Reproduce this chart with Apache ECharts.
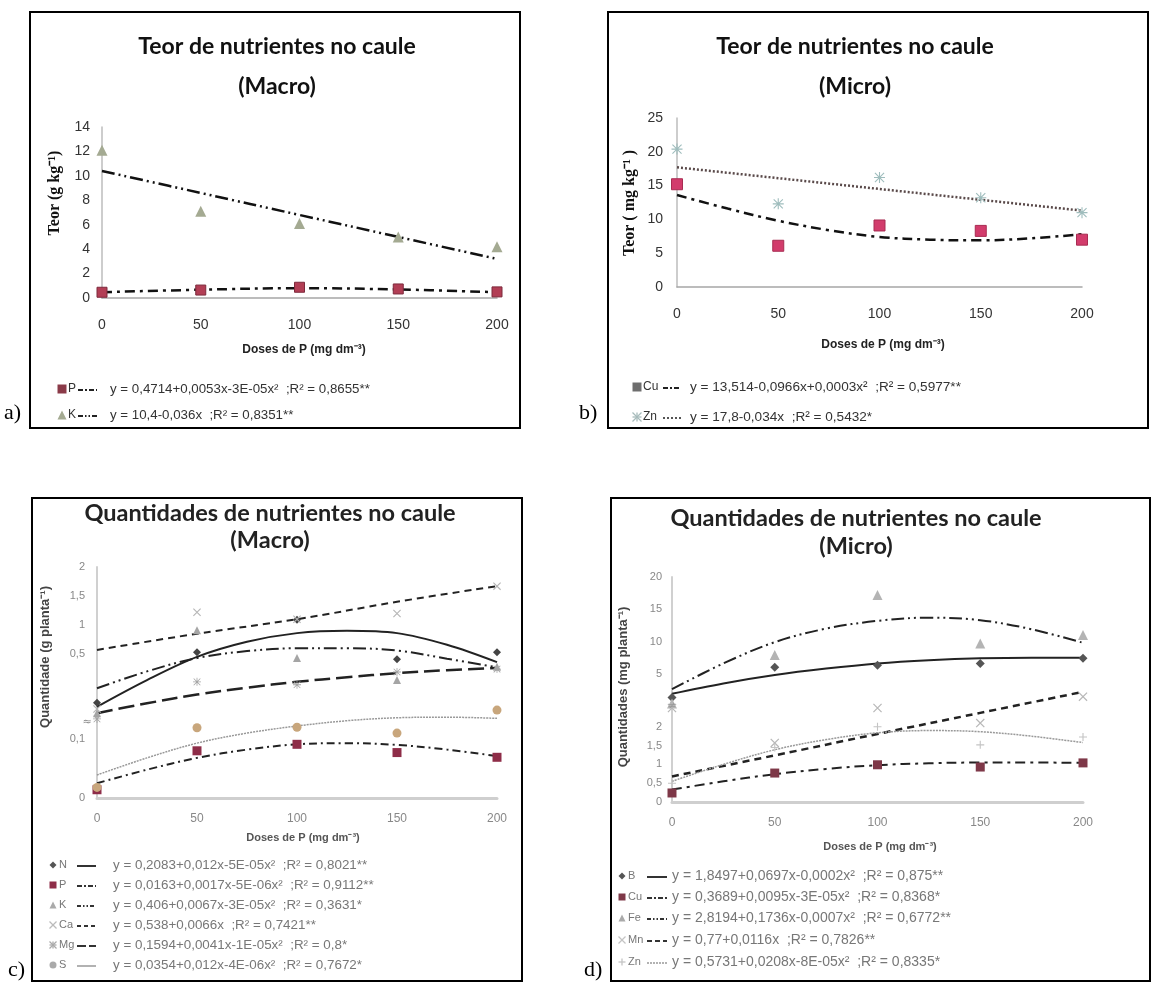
<!DOCTYPE html>
<html><head><meta charset="utf-8">
<script src="https://cdn.jsdelivr.net/npm/echarts@6/dist/echarts.min.js"></script>
<style>html,body{margin:0;padding:0;background:#fff}#chart{width:1153px;height:985px}</style>
</head><body><div id="chart"></div>
<script>
// ---------- data ----------
const doses = [0, 50, 100, 150, 200];
const fitX = [0, 25, 50, 75, 100, 125, 150, 175, 200];
const xTicks = [0, 50, 100, 150, 200];

// a) Teor macro (g kg-1)
const aP = [0.47, 0.65, 0.88, 0.74, 0.5];
const aK = [12.1, 7.1, 6.1, 5.0, 4.2];
const aPfit = [0.47, 0.68, 0.8, 0.7, 0.47];      // at doses
const aKfit = [10.4, 8.6, 6.8, 5.0, 3.2];        // at doses

// b) Teor micro (mg kg-1)
const bCu = [15.2, 6.1, 9.1, 8.3, 7.0];
const bZn = [20.4, 12.3, 16.2, 13.2, 11.0];
const bCufit = [13.6, 11.6, 9.8, 8.4, 7.4, 7.0, 6.9, 7.2, 7.8]; // at fitX
const bZnfit = [17.7, 16.1, 14.5, 12.9, 11.3];                  // at doses

// c) Quantidades macro – upper scale part (N, K, Ca, Mg)
const cN = [-0.34, 0.53, 1.09, 0.41, 0.53];
const cK = [-0.52, 0.91, 0.43, 0.05, 0.28];
const cCa = [-0.45, 1.22, 1.1, 1.2, 1.67];
const cMg = [-0.62, 0.02, -0.03, 0.19, 0.24];
const cNfit = [-0.41, 0.05, 0.45, 0.71, 0.86, 0.9, 0.86, 0.66, 0.36];
const cKfit = [-0.09, 0.2, 0.43, 0.55, 0.6, 0.6, 0.56, 0.42, 0.27];
const cCafit = [0.57, 0.85, 1.1, 1.4, 1.67];
const cMgfit = [-0.52, -0.35, -0.2, -0.08, 0.02, 0.1, 0.17, 0.22, 0.26];
// c) lower scale part (P, S)
const cP = [0.014, 0.08, 0.091, 0.077, 0.069];
const cS = [0.018, 0.119, 0.12, 0.11, 0.149];
const cPfit = [0.025, 0.048, 0.068, 0.082, 0.091, 0.093, 0.09, 0.082, 0.071];
const cSfit = [0.039, 0.068, 0.093, 0.11, 0.122, 0.131, 0.136, 0.137, 0.135];

// d) Quantidades micro – upper scale part (B, Fe)
const dB = [1.3, 6.0, 6.3, 6.6, 7.4];
const dFe = [0.4, 7.9, 17.2, 9.7, 11.0];
const dBfit = [1.9, 3.5, 4.8, 5.8, 6.6, 7.1, 7.4, 7.5, 7.5];
const dFefit = [2.6, 6.6, 9.9, 12.0, 13.2, 13.7, 13.3, 11.9, 9.8];
// d) lower scale part (Cu, Mn, Zn)
const dCu = [0.24, 0.77, 0.99, 0.93, 1.04];
const dMn = [2.5, 1.57, 2.5, 2.1, 2.8];
const dZn = [0.5, 1.45, 2.0, 1.52, 1.73];
const dCufit = [0.33, 0.55, 0.74, 0.88, 0.98, 1.03, 1.05, 1.05, 1.04];
const dMnfit = [0.68, 1.24, 1.81, 2.37, 2.93];   // at doses
const dZnfit = [0.55, 1.0, 1.39, 1.66, 1.84, 1.9, 1.87, 1.75, 1.58];

// texts
const titles = ['Teor de nutrientes no caule', 'Quantidades de nutrientes no caule'];
const subtitles = ['(Macro)', '(Micro)', '(Macro)', '(Micro)'];
const xTitle = 'Doses de P (mg dm⁻³)';
const yTitles = ['Teor (g kg⁻¹)', 'Teor ( mg kg⁻¹ )', 'Quantidade (g planta⁻¹)', 'Quantidades (mg planta⁻¹)'];
const panelLabels = ['a)', 'b)', 'c)', 'd)'];
const aNames = ['P', 'K'];
const aEq = ['y = 0,4714+0,0053x-3E-05x²  ;R² = 0,8655**', 'y = 10,4-0,036x  ;R² = 0,8351**'];
const bNames = ['Cu', 'Zn'];
const bEq = ['y = 13,514-0,0966x+0,0003x²  ;R² = 0,5977**', 'y = 17,8-0,034x  ;R² = 0,5432*'];
const cNames = ['N', 'P', 'K', 'Ca', 'Mg', 'S'];
const cEq = ['y = 0,2083+0,012x-5E-05x²  ;R² = 0,8021**', 'y = 0,0163+0,0017x-5E-06x²  ;R² = 0,9112**',
  'y = 0,406+0,0067x-3E-05x²  ;R² = 0,3631*', 'y = 0,538+0,0066x  ;R² = 0,7421**',
  'y = 0,1594+0,0041x-1E-05x²  ;R² = 0,8*', 'y = 0,0354+0,012x-4E-06x²  ;R² = 0,7672*'];
const dNames = ['B', 'Cu', 'Fe', 'Mn', 'Zn'];
const dEq = ['y = 1,8497+0,0697x-0,0002x²  ;R² = 0,875**', 'y = 0,3689+0,0095x-3E-05x²  ;R² = 0,8368*',
  'y = 2,8194+0,1736x-0,0007x²  ;R² = 0,6772**', 'y = 0,77+0,0116x  ;R² = 0,7826**',
  'y = 0,5731+0,0208x-8E-05x²  ;R² = 0,8335*'];

// ---------- styling ----------
const NARROW = '"Liberation Sans Narrow", "Liberation Sans", sans-serif';
const comma = v => String(+v.toFixed(2)).replace('.', ',');
const pairs = (xs, ys) => xs.map((x, i) => [x, ys[i]]);
const AST = 'path://M4.5,0h1v10h-1z M0,4.5h10v1h-10z M1.2,0.5L9.5,8.8L8.8,9.5L0.5,1.2z M8.8,0.5L9.5,1.2L1.2,9.5L0.5,8.8z';
const XS = 'path://M1.2,0.3L9.7,8.8L8.8,9.7L0.3,1.2z M8.8,0.3L9.7,1.2L1.2,9.7L0.3,8.8z';
const PLUS = 'path://M0,4.3h10v1.4h-10z M4.3,0h1.4v10h-1.4z';

const DD = [10, 5, 3, 5];            // dash-dot
const DDD = [13, 4, 2, 4, 2, 4];     // dash-dot-dot
const DASH = [7, 5];
const LDASH = [16, 6];
const DOT = [2, 2];

const grids = [
  {left: 102, top: 127, width: 395, height: 171},  // a
  {left: 677, top: 118, width: 405, height: 169},  // b
  {left: 97, top: 680, width: 400, height: 118},   // c lower
  {left: 97, top: 567, width: 400, height: 145},   // c upper
  {left: 672, top: 708, width: 411, height: 94},   // d lower
  {left: 672, top: 577, width: 411, height: 129}   // d upper
];

function xAx(gi, show, big) {
  return {type: 'value', gridIndex: gi, min: 0, max: 200, interval: 50,
    axisLine: {show: show, lineStyle: {color: big ? '#a6a6a6' : '#cfcfcf', width: big ? 1.5 : 3}},
    axisTick: {show: false}, splitLine: {show: false},
    axisLabel: {show: show, margin: big ? 20 : 15, fontFamily: NARROW,
      fontSize: big ? 14 : 12, color: big ? '#333' : '#888'}};
}
function yAx(gi, min, max, interval, showFn, big, margin) {
  return {type: 'value', gridIndex: gi, min: min, max: max, interval: interval,
    axisLine: {show: true, onZero: false, lineStyle: {color: big ? '#bdbdbd' : '#d0d0d0', width: big ? 1.5 : 2}},
    axisTick: {show: false}, splitLine: {show: false},
    axisLabel: {margin: margin, fontFamily: NARROW, fontSize: big ? 14 : 11, color: big ? '#333' : '#888',
      formatter: v => showFn(v) ? comma(v) : ''}};
}

function pts(xi, yi, ys, symbol, size, color, border) {
  return {type: 'scatter', xAxisIndex: xi, yAxisIndex: yi, data: pairs(doses, ys), symbol: symbol,
    symbolSize: size, clip: false, z: 5,
    itemStyle: {color: color, borderColor: border || color, borderWidth: border ? 1 : 0, opacity: 1}};
}
function fit(xi, yi, xs, ys, dash, width, color) {
  return {type: 'line', xAxisIndex: xi, yAxisIndex: yi, data: pairs(xs, ys), symbol: 'none',
    smooth: xs.length > 5 ? 0.35 : (ys[2] !== (ys[0] + ys[4]) / 2 ? 0.4 : false), clip: false, z: 3,
    lineStyle: {type: dash, width: width, color: color}};
}

const series = [
  // a
  fit(0, 0, doses, aPfit, DD, 2.5, '#111'),
  fit(0, 0, doses, aKfit, DDD, 2.5, '#111'),
  pts(0, 0, aP, 'rect', 10, '#b23e55', '#7d2a3c'),
  pts(0, 0, aK, 'triangle', 11, '#a4aa92'),
  // b
  fit(1, 1, fitX, bCufit, DD, 2.5, '#111'),
  fit(1, 1, doses, bZnfit, DOT, 2.5, '#5a4a4a'),
  pts(1, 1, bCu, 'rect', 11, '#d23c6c', '#a82c52'),
  pts(1, 1, bZn, AST, 11, '#9fbdbd'),
  // c lower
  fit(2, 2, fitX, cPfit, [8, 4, 2, 4], 2, '#222'),
  fit(2, 2, fitX, cSfit, [2, 1], 1.5, '#999'),
  pts(2, 2, cP, 'rect', 9, '#8e2d48'),
  pts(2, 2, cS, 'circle', 9, '#c8a67c'),
  // c upper
  fit(3, 3, fitX, cNfit, 'solid', 2, '#222'),
  fit(3, 3, fitX, cKfit, DDD, 2, '#222'),
  fit(3, 3, doses, cCafit, DASH, 2, '#222'),
  fit(3, 3, fitX, cMgfit, LDASH, 2.5, '#222'),
  pts(3, 3, cN, 'diamond', 8, '#444'),
  pts(3, 3, cK, 'triangle', 8, '#a5a5a5'),
  pts(3, 3, cCa, XS, 8, '#b5b5b5'),
  pts(3, 3, cMg, AST, 8, '#a5a5a5'),
  // d lower
  fit(4, 4, fitX, dCufit, DD, 2, '#222'),
  fit(4, 4, doses, dMnfit, DASH, 2.5, '#222'),
  fit(4, 4, fitX, dZnfit, [2, 1], 1.5, '#999'),
  pts(4, 4, dCu, 'rect', 9, '#7e3848'),
  pts(4, 4, dMn, XS, 9, '#b8b8b8'),
  pts(4, 4, dZn, PLUS, 8, '#c4c4c4'),
  // d upper
  fit(5, 5, fitX, dBfit, 'solid', 2, '#222'),
  fit(5, 5, fitX, dFefit, DDD, 2, '#222'),
  pts(5, 5, dB, 'diamond', 9, '#555'),
  pts(5, 5, dFe, 'triangle', 10, '#b4b4b4')
];

// ---------- graphic: frames, titles, axis titles, legends ----------
const G = [];
function txt(x, y, text, font, color, align, rot) {
  G.push({type: 'text', x: x, y: y, rotation: rot || 0, z: 10,
    style: {text: text, font: font, fill: color, textAlign: align || 'left', textVerticalAlign: 'middle'}});
}
function frame(x, y, w, h) {
  G.push({type: 'rect', shape: {x: x, y: y, width: w, height: h}, z: 1,
    style: {fill: 'none', stroke: '#000', lineWidth: 2}});
}
function marker(kind, cx, cy, s, color) {
  const st = {fill: color};
  const ln = (x1, y1, x2, y2) => ({type: 'line', shape: {x1: x1, y1: y1, x2: x2, y2: y2}, style: {stroke: color, lineWidth: 1.3}});
  const h = s / 2;
  if (kind === 'rect') return {type: 'rect', shape: {x: cx - h, y: cy - h, width: s, height: s}, style: st};
  if (kind === 'triangle') return {type: 'polygon', shape: {points: [[cx, cy - h], [cx + h, cy + h], [cx - h, cy + h]]}, style: st};
  if (kind === 'diamond') return {type: 'polygon', shape: {points: [[cx, cy - h], [cx + h, cy], [cx, cy + h], [cx - h, cy]]}, style: st};
  if (kind === 'circle') return {type: 'circle', shape: {cx: cx, cy: cy, r: h}, style: st};
  if (kind === 'x') return {type: 'group', children: [ln(cx - h, cy - h, cx + h, cy + h), ln(cx - h, cy + h, cx + h, cy - h)]};
  if (kind === 'plus') return {type: 'group', children: [ln(cx - h, cy, cx + h, cy), ln(cx, cy - h, cx, cy + h)]};
  return {type: 'group', children: [ln(cx - h, cy - h, cx + h, cy + h), ln(cx - h, cy + h, cx + h, cy - h),
    ln(cx - h, cy, cx + h, cy), ln(cx, cy - h, cx, cy + h)]};
}
function legendRow(o) {
  const m = marker(o.kind, o.mx, o.y, o.ms, o.mc); m.z = 10; G.push(m);
  txt(o.nx, o.y, o.name, o.nfont || o.font, o.tc);
  G.push({type: 'line', z: 10, shape: {x1: o.l1, y1: o.y + 1, x2: o.l2, y2: o.y + 1},
    style: {stroke: o.lc || '#222', lineWidth: o.lw || 2, lineDash: o.dash}});
  txt(o.ex, o.y, o.eq, o.font, o.tc);
}

// frames
frame(30, 12, 490, 416);
frame(608, 12, 540, 416);
frame(32, 498, 490, 483);
frame(611, 498, 539, 483);
// panel letters
txt(4, 413, panelLabels[0], '22px "Liberation Serif"', '#000');
txt(579, 413, panelLabels[1], '22px "Liberation Serif"', '#000');
txt(8, 970, panelLabels[2], '22px "Liberation Serif"', '#000');
txt(584, 970, panelLabels[3], '22px "Liberation Serif"', '#000');
// titles
const TF1 = 'bold 23px Lato';
const TF2 = 'bold 23.5px Lato';
txt(277, 47, titles[0], TF1, '#111', 'center');
txt(277, 87, subtitles[0], TF1, '#111', 'center');
txt(855, 47, titles[0], TF1, '#111', 'center');
txt(855, 87, subtitles[1], TF1, '#111', 'center');
txt(270, 513, titles[1], TF2, '#222', 'center');
txt(270, 540, subtitles[2], TF2, '#222', 'center');
txt(856, 518, titles[1], TF2, '#222', 'center');
txt(856, 546, subtitles[3], TF2, '#222', 'center');
// axis titles
txt(304, 350, xTitle, 'bold 12px ' + NARROW, '#222', 'center');
txt(883, 345, xTitle, 'bold 12px ' + NARROW, '#222', 'center');
txt(303, 838, xTitle, 'bold 11px ' + NARROW, '#555', 'center');
txt(880, 847, xTitle, 'bold 11px ' + NARROW, '#555', 'center');
txt(55, 193, yTitles[0], 'bold 16px "Liberation Serif"', '#111', 'center', Math.PI / 2);
txt(630, 203, yTitles[1], 'bold 16px "Liberation Serif"', '#111', 'center', Math.PI / 2);
txt(45, 657, yTitles[2], 'bold 13px ' + NARROW, '#444', 'center', Math.PI / 2);
txt(623, 687, yTitles[3], 'bold 13px ' + NARROW, '#444', 'center', Math.PI / 2);
// axis break marks
txt(87, 722, '≈', '11px "DejaVu Sans"', '#888', 'center');
txt(672, 706, '≠', '10px "DejaVu Sans"', '#999', 'center');

// legends
const LFa = '13.3px ' + NARROW;
const LFb = '13.6px ' + NARROW;
const LFc = '13.4px ' + NARROW;
const LFd = '14px ' + NARROW;
const NFs = '11px ' + NARROW;
legendRow({kind: 'rect', mx: 62, y: 389, ms: 9, mc: '#8a3a48', nx: 68, name: aNames[0], nfont: '12px ' + NARROW, font: LFa, tc: '#333', l1: 78, l2: 97, dash: [5, 2, 2, 2], ex: 110, eq: aEq[0]});
legendRow({kind: 'triangle', mx: 62, y: 415, ms: 9, mc: '#a4aa92', nx: 68, name: aNames[1], nfont: '12px ' + NARROW, font: LFa, tc: '#333', l1: 78, l2: 97, dash: [5, 2, 1.5, 2, 1.5, 2], ex: 110, eq: aEq[1]});
legendRow({kind: 'rect', mx: 637, y: 387, ms: 9, mc: '#6e6e6e', nx: 643, name: bNames[0], nfont: '12px ' + NARROW, font: LFb, tc: '#333', l1: 663, l2: 681, dash: [5, 2, 2, 2], ex: 690, eq: bEq[0]});
legendRow({kind: 'ast', mx: 637, y: 417, ms: 9, mc: '#a8bcbc', nx: 643, name: bNames[1], nfont: '12px ' + NARROW, font: LFb, tc: '#333', l1: 663, l2: 681, dash: [2, 2], lc: '#555', ex: 690, eq: bEq[1]});

const cRowsY = [865, 885, 905, 925, 945, 965];
const cKinds = ['diamond', 'rect', 'triangle', 'x', 'ast', 'circle'];
const cMC = ['#555', '#8e2d48', '#aaa', '#bbb', '#aaa', '#aaa'];
const cDash = [null, [5, 2, 2, 2], [4, 2, 1.5, 2, 1.5, 2], [4, 3], [9, 3], null];
cNames.forEach((n, i) => legendRow({kind: cKinds[i], mx: 53, y: cRowsY[i], ms: 7, mc: cMC[i], nx: 59, name: n, nfont: NFs, font: LFc, tc: '#777',
  l1: 77, l2: 96, dash: cDash[i], lc: i === 5 ? '#999' : '#333', lw: i === 5 ? 1.5 : 2, ex: 113, eq: cEq[i]}));

const dRowsY = [876, 897, 918, 940, 962];
const dKinds = ['diamond', 'rect', 'triangle', 'x', 'plus'];
const dMC = ['#555', '#7e3848', '#aaa', '#c4c4c4', '#c4c4c4'];
const dDash = [null, [5, 2, 2, 2], [4, 2, 1.5, 2, 1.5, 2], [5, 3], [2, 1]];
dNames.forEach((n, i) => legendRow({kind: dKinds[i], mx: 622, y: dRowsY[i], ms: 7, mc: dMC[i], nx: 628, name: n, nfont: NFs, font: LFd, tc: '#777',
  l1: 647, l2: 667, dash: dDash[i], lc: i === 4 ? '#999' : '#333', lw: i === 4 ? 1.5 : 2, ex: 672, eq: dEq[i]}));

// ---------- chart ----------
const chart = echarts.init(document.getElementById('chart'), null, {renderer: 'canvas'});
chart.setOption({
  animation: false,
  backgroundColor: '#fff',
  grid: grids,
  xAxis: [xAx(0, true, true), xAx(1, true, true), xAx(2, true, false), xAx(3, false, false), xAx(4, true, false), xAx(5, false, false)],
  yAxis: [
    yAx(0, 0, 14, 2, v => true, true, 12),
    yAx(1, 0, 25, 5, v => true, true, 14),
    yAx(2, 0, 0.2, 0.1, v => v < 0.15, false, 12),
    yAx(3, -0.5, 2, 0.5, v => v >= 0.5, false, 12),
    yAx(4, 0, 2.5, 0.5, v => v < 2.25, false, 10),
    yAx(5, 0, 20, 5, v => v >= 5, false, 10)
  ],
  series: series,
  graphic: {elements: G}
});
</script></body></html>
